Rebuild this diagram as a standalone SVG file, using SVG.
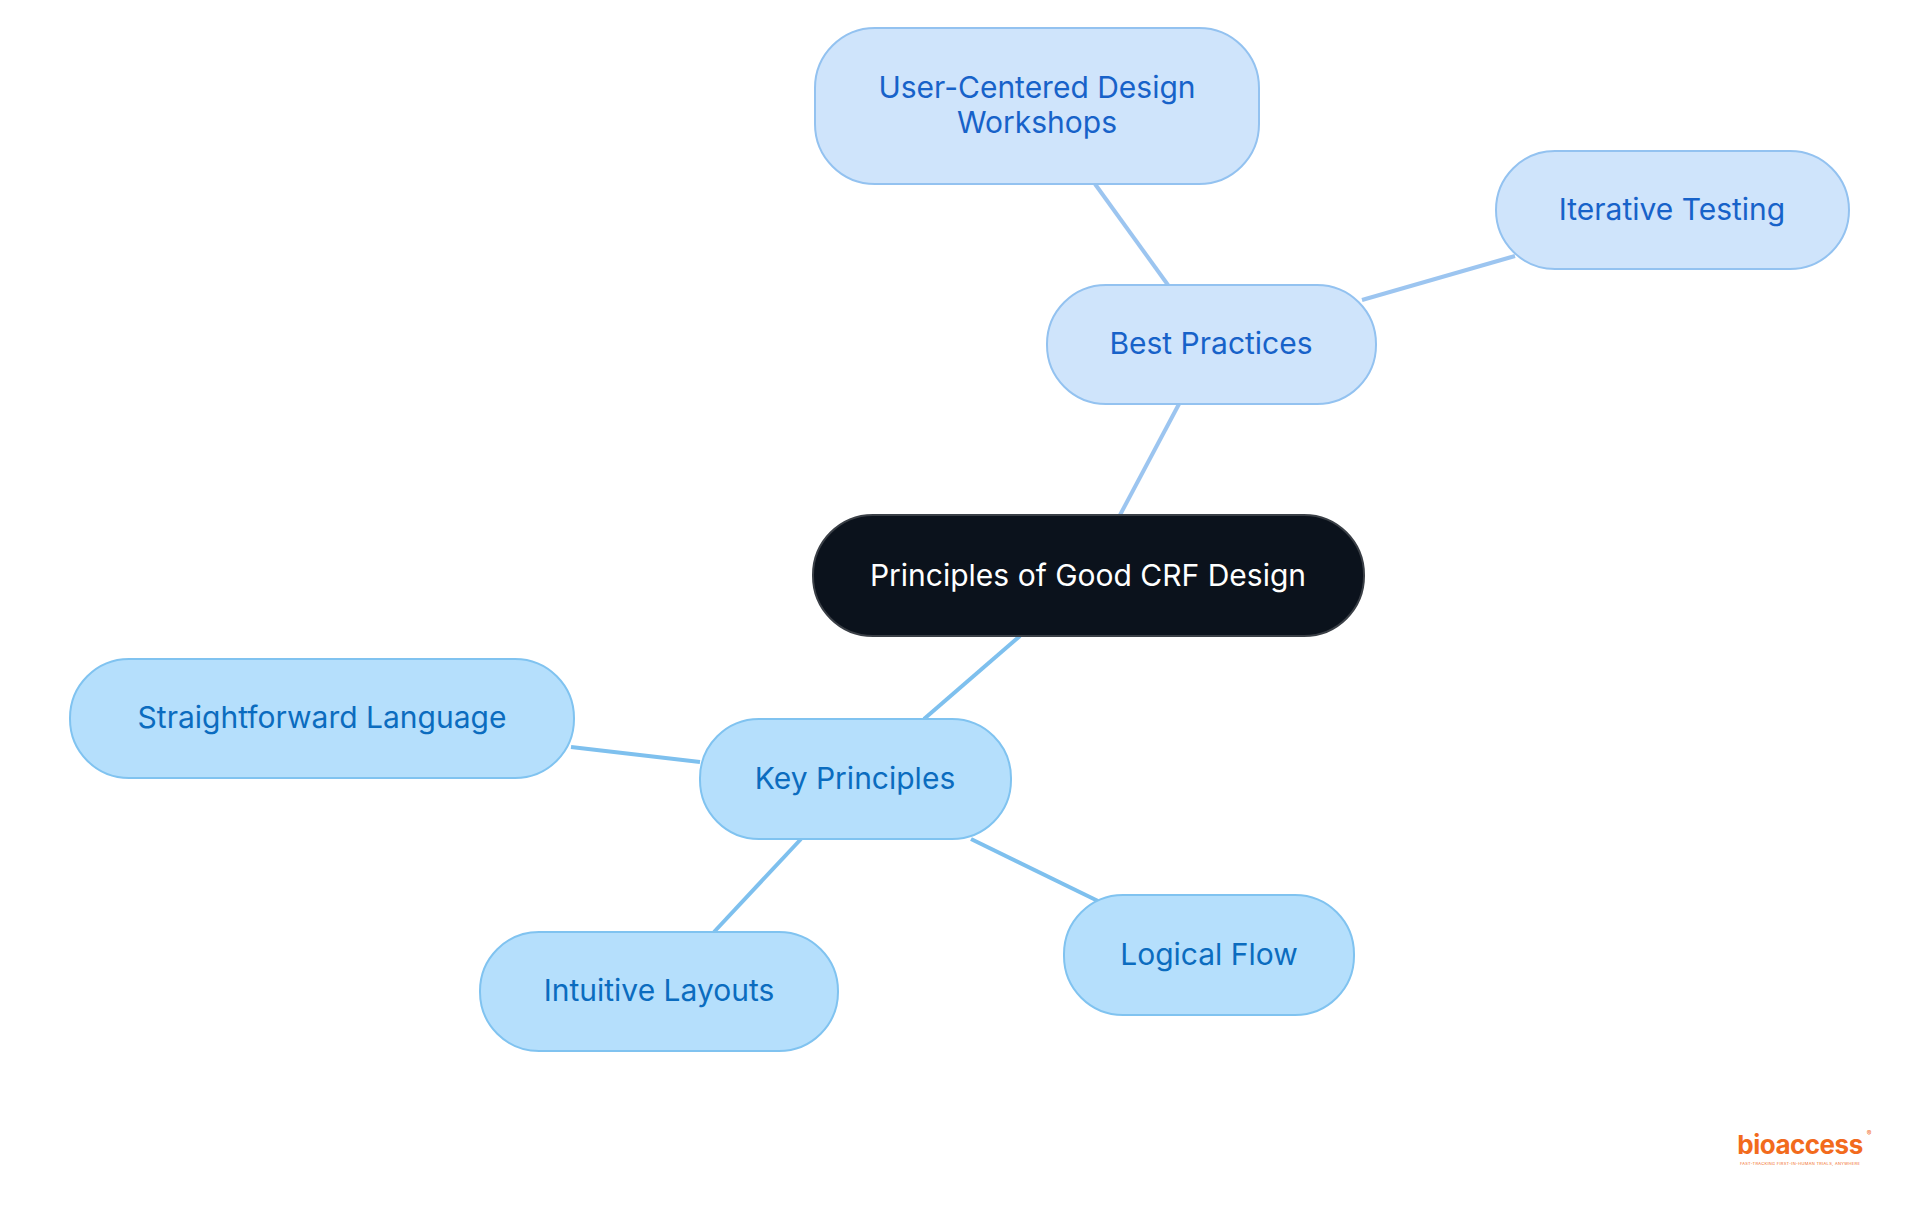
<svg xmlns="http://www.w3.org/2000/svg" width="1920" height="1215" viewBox="0 0 1920 1215">
<style>
text{font-family:Inter,"Noto Sans",sans-serif;font-size:30px;text-anchor:middle;dominant-baseline:central}
.a rect{fill:#b5dffc;stroke:#80c3f0;stroke-width:2}
.a text{fill:#0b6cbf}
.b rect{fill:#cfe4fb;stroke:#93c2f0;stroke-width:2}
.b text{fill:#1762c9}
.la{stroke:#7ec0ee;stroke-width:4}
.lb{stroke:#9cc5f0;stroke-width:4}
</style>
<rect width="1920" height="1215" fill="#fff"/>
<g id="connectors">
<line class="lb" x1="1120" y1="515" x2="1179" y2="404"/>
<line class="lb" x1="1168" y1="285" x2="1095" y2="184"/>
<line class="lb" x1="1362" y1="300" x2="1515" y2="256"/>
<line class="la" x1="1020" y1="636" x2="924" y2="719"/>
<line class="la" x1="700" y1="762" x2="571" y2="747"/>
<line class="la" x1="801" y1="839" x2="714" y2="932"/>
<line class="la" x1="971" y1="839" x2="1098" y2="901"/>
</g>
<g id="center"><rect x="813" y="515" width="551" height="121" rx="60" fill="#0b121c" stroke="#3a3f46" stroke-width="2"/><text x="1088" y="575" fill="#fff">Principles of Good CRF Design</text></g>
<g id="best" class="b"><rect x="1047" y="285" width="329" height="119" rx="59"/><text x="1211" y="343">Best Practices</text></g>
<g id="ucd" class="b"><rect x="815" y="28" width="444" height="156" rx="60"/><text x="1037" y="87">User-Centered Design</text><text x="1037" y="122">Workshops</text></g>
<g id="iter" class="b"><rect x="1496" y="151" width="353" height="118" rx="59"/><text x="1672" y="209">Iterative Testing</text></g>
<g id="key" class="a"><rect x="700" y="719" width="311" height="120" rx="59"/><text x="855" y="778">Key Principles</text></g>
<g id="straight" class="a"><rect x="70" y="659" width="504" height="119" rx="59"/><text x="322" y="717">Straightforward Language</text></g>
<g id="intuitive" class="a"><rect x="480" y="932" width="358" height="119" rx="59"/><text x="659" y="990">Intuitive Layouts</text></g>
<g id="logical" class="a"><rect x="1064" y="895" width="290" height="120" rx="59"/><text x="1209" y="954">Logical Flow</text></g>
<g id="logo"><text x="1800" y="1144" style="font-size:26px;font-weight:700;fill:#f26b1d;letter-spacing:-0.5px">bioaccess</text><text x="1869" y="1133" style="font-size:7px;fill:#f26b1d">®</text><text x="1800" y="1163" style="font-size:4px;fill:#f26b1d;letter-spacing:0.3px">FAST-TRACKING FIRST-IN-HUMAN TRIALS, ANYWHERE</text></g>
</svg>
